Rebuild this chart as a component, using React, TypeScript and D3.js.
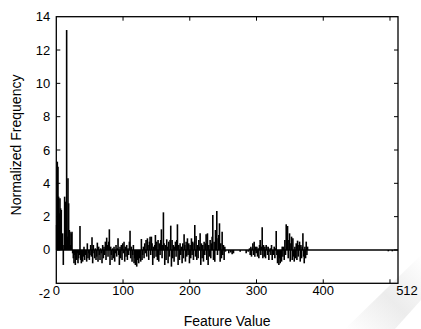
import React, { FC, useMemo } from "react";
import * as d3 from "d3";

// normalized frequency per feature value (index = feature value)
const freqValues = [
  1.5, 5.3, 5.0, 3.2, 2.2, 3.1, 2.5, 2.4, 0.6, 1.0,
  -0.9, 0.3, 3.2, 2.9, 1.0, 13.2, 0.8, 4.3, 2.8, 1.2,
  1.1, 0.3, 1.0, 1.1, -0.2, -0.5, -0.8, -0.3, -0.9, -0.4,
  -0.6, -0.2, -0.8, -0.5, -0.3, 1.44, -0.6, -0.8, -0.2, -0.7,
  -0.4, 0.2, -0.6, -0.3, 0.0, -0.7, 0.4, -0.5, -0.2, -0.6,
  -0.3, 0.3, -0.4, 0.76, -0.8, 0.3, -0.2, -0.5, 0.1, -0.6,
  -0.4, 0.44, -0.7, 0.2, -0.3, -0.6, 0.1, -0.2, -0.8, 0.3,
  -0.5, 0.2, -0.3, 0.5, -0.6, 0.74, 0.3, -0.4, 0.5, 1.24,
  -0.9, 0.2, -0.3, -0.6, 0.1, -0.5, 0.2, -0.7, -0.2, 0.3,
  -0.4, 0.1, 0.7, -0.3, -0.9, 0.2, -0.5, 0.3, -0.6, 0.4,
  -0.2, 0.5, -0.7, 0.2, -0.4, 0.3, -0.6, 0.1, -0.3, 0.5,
  1.16, -0.5, 0.2, -0.7, -0.3, 0.3, -0.8, -0.5, -0.9, -0.4,
  -1.0, -0.6, -0.3, -0.8, -0.5, -0.2, -0.7, 0.66, -0.6, -0.3,
  0.2, -0.5, 0.4, -0.2, 0.6, -0.4, 0.7, 0.3, -0.6, 0.5,
  0.8, -0.3, 0.8, 0.4, -0.9, 0.2, -0.5, 0.3, 0.9, -0.4,
  0.5, -0.6, 0.6, -0.7, 0.4, -0.3, 0.6, 1.24, -0.5, 0.3,
  2.26, 0.4, -0.9, 0.3, -0.6, 0.64, 0.2, -0.8, 0.5, -0.4,
  0.6, 1.46, -1.0, 0.6, -0.5, 0.3, -0.7, 0.2, 0.5, -0.4,
  0.6, 1.54, -0.9, 0.3, -0.6, 0.4, -0.3, 0.2, -0.8, 0.4,
  -0.5, 0.94, 0.3, -0.7, 0.5, -0.4, 0.7, -0.3, 0.4, -0.8,
  0.3, -0.5, 0.7, -0.3, 0.5, -0.6, 0.4, 1.5, -0.4, 0.84,
  -0.6, 0.3, -0.5, 0.6, 0.2, 1.0, -0.9, 0.4, -0.5, 0.3,
  -0.7, 0.5, -0.3, 0.4, 0.94, -0.6, 1.0, -0.9, 0.3, -0.4,
  0.6, -0.5, 0.4, 0.8, 2.1, -0.6, 0.5, -0.7, 1.2, 0.4,
  2.34, -0.3, 0.7, 0.9, 1.6, -0.7, 0.4, -0.5, 1.1, -0.3,
  0.3, -0.6, 0.2, -0.1, 0, 0, 0, 0, -0.2, 0,
  0, -0.15, 0, -0.25, 0, -0.2, 0, 0, 0, 0,
  0, 0, 0, 0, 0, -0.1, 0, 0, 0, 0,
  0, 0, 0, 0, -0.2, 0, 0, -0.1, 0, 0.1,
  -0.3, 0.2, -0.4, 0.1, 0.4, -0.3, 0.5, -0.4, 0.2, -0.2,
  0.2, -0.4, 0.1, -0.5, 0.3, 0.6, -0.3, 0.2, 1.36, -0.5,
  0.3, -0.4, 0.2, -0.5, 0.3, 0.2, -0.3, 0.2, -0.6, -0.1,
  0.1, -0.3, 0.3, -0.6, 0.0, -0.3, 0.2, -0.5, 0.1, 1.14,
  -0.3, -0.8, -0.4, -0.9, -0.5, -0.8, -0.3, -0.7, 0.2, -0.4,
  0.2, -0.6, 0.6, -0.3, 1.54, 0.3, 1.44, -0.5, 0.6, 1.0,
  -0.7, 0.4, 0.8, -0.6, 0.7, -0.4, -0.7, 0.2, -0.5, 0.4,
  -0.6, 0.56, -0.4, 0.3, 0.5, -0.7, 0.3, -0.5, 0.2, 1.0,
  -0.4, -0.8, 0.2, -0.5, 0.5, -0.3, 0.2, 0,
];

// the few tiny dips in the otherwise empty tail: [feature value, frequency]
const tailDips: [number, number][] = [
  [497, -0.08],
  [503, -0.08],
];

const xTicks = [0, 100, 200, 300, 400, 500, 512];
const xTickLabels = ["0", "100", "200", "300", "400", "", "512"];
const yTicks = [-2, 0, 2, 4, 6, 8, 10, 12, 14];

const fontFamily = "'Liberation Sans', Arial, sans-serif";

const Chart: FC<any> = (props: any) => {
  const {
    width = 421,
    height = 329,
    marginTop = 16.7,
    marginRight = 23,
    marginBottom = 45.7,
    marginLeft = 56.3,
  } = props;

  const x = useMemo(
    () => d3.scaleLinear([0, 512], [marginLeft, width - marginRight]),
    [width, marginLeft, marginRight]
  );
  const y = useMemo(
    () => d3.scaleLinear([-2, 14], [height - marginBottom, marginTop]),
    [height, marginBottom, marginTop]
  );

  const bars = useMemo(
    () =>
      (freqValues.map((v, i) => [i, v]) as [number, number][])
        .concat(tailDips)
        .filter((d) => d[1] !== 0),
    []
  );

  const x0 = x(0);
  const x1 = x(512);
  const y0 = y(-2);
  const y1 = y(14);
  const tick = 4;

  return (
    <svg
      width={width}
      height={height}
      style={{ position: "absolute", top: 0, left: 0, background: "#fff" }}
    >
      <defs>
        <linearGradient id="wm" x1="0" y1="1" x2="1" y2="0">
          <stop offset="0" stopColor="#ffffff" />
          <stop offset="0.5" stopColor="#ececec" />
          <stop offset="1" stopColor="#ffffff" />
        </linearGradient>
      </defs>
      <polygon points="345,329 395,329 421,300 421,255" fill="url(#wm)" />

      {/* bars drawn as black stems from the zero baseline */}
      <g stroke="#000" strokeWidth={1.6}>
        {bars.map((d, i) => (
          <line
            // eslint-disable-next-line react/no-array-index-key
            key={i}
            x1={x(d[0] + 0.5)}
            x2={x(d[0] + 0.5)}
            y1={y(0)}
            y2={y(d[1])}
          />
        ))}
      </g>
      <line
        x1={x0}
        x2={x1}
        y1={y(0)}
        y2={y(0)}
        stroke="#000"
        strokeWidth={1.4}
      />

      <rect
        x={x0}
        y={y1}
        width={x1 - x0}
        height={y0 - y1}
        fill="none"
        stroke="#000"
        strokeWidth={1.3}
      />

      <g stroke="#000" strokeWidth={1}>
        {xTicks.slice(1, -1).map((t) => (
          <g key={t}>
            <line x1={x(t)} x2={x(t)} y1={y0} y2={y0 - tick} />
            <line x1={x(t)} x2={x(t)} y1={y1} y2={y1 + tick} />
          </g>
        ))}
        {yTicks.slice(1, -1).map((t) => (
          <g key={t}>
            <line x1={x0} x2={x0 + tick} y1={y(t)} y2={y(t)} />
            <line x1={x1} x2={x1 - tick} y1={y(t)} y2={y(t)} />
          </g>
        ))}
      </g>

      <g fontFamily={fontFamily} fontSize={13} fill="#000">
        {xTicks.map((t, i) => (
          <text
            key={t}
            x={x(t) + (t === 512 ? 9 : 0)}
            y={y0 + 12}
            textAnchor="middle"
          >
            {xTickLabels[i]}
          </text>
        ))}
        {yTicks.map((t) => (
          <text
            key={t}
            x={x0 - 6}
            y={y(t) + (t === -2 ? 10 : 0)}
            textAnchor="end"
            dominantBaseline="central"
          >
            {t}
          </text>
        ))}
      </g>

      <g fontFamily={fontFamily} fontSize={14} fill="#000">
        <text x={(x0 + x1) / 2} y={326} textAnchor="middle">
          Feature Value
        </text>
        <text
          transform={`translate(21,${(y0 + y1) / 2 - 5}) rotate(-90)`}
          textAnchor="middle"
        >
          Normalized Frequency
        </text>
      </g>
    </svg>
  );
};

export default function App() {
  return <Chart />;
}
